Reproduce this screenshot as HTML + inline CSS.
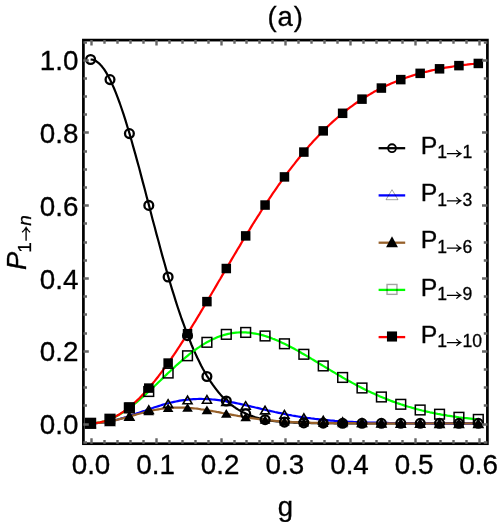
<!DOCTYPE html>
<html lang="en"><head><meta charset="utf-8"><title>(a) P1→n versus g</title>
<style>
html,body{margin:0;padding:0;background:#fff;}
body{width:500px;height:522px;overflow:hidden;font-family:"Liberation Sans",sans-serif;}
svg{display:block;will-change:transform;}
text{font-family:"Liberation Sans",sans-serif;fill:#000;stroke:#000;stroke-width:0.3px;}
.it{font-style:italic;}
</style></head><body>
<svg width="500" height="522" viewBox="0 0 500 522">
<rect width="500" height="522" fill="#fff"/>
<defs><clipPath id="cp"><rect x="83.4" y="40.1" width="404.0" height="403.6"/></clipPath></defs>
<g clip-path="url(#cp)" fill="none" stroke-width="2.2" stroke-linejoin="round">
<path d="M90.6 59.5L92.5 59.7L94.5 60.3L96.4 61.3L98.4 62.8L100.3 64.6L102.2 66.8L104.2 69.4L106.1 72.4L108.0 75.8L110.0 79.5L111.9 83.6L113.9 88.0L115.8 92.7L117.7 97.7L119.7 103.0L121.6 108.5L123.6 114.4L125.5 120.4L127.4 126.7L129.4 133.1L131.3 139.8L133.2 146.6L135.2 153.6L137.1 160.6L139.1 167.8L141.0 175.1L142.9 182.4L144.9 189.8L146.8 197.2L148.8 204.6L150.7 212.0L152.6 219.4L154.6 226.8L156.5 234.1L158.5 241.3L160.4 248.5L162.3 255.6L164.3 262.5L166.2 269.4L168.1 276.1L170.1 282.7L172.0 289.1L174.0 295.4L175.9 301.6L177.8 307.5L179.8 313.3L181.7 319.0L183.7 324.4L185.6 329.7L187.5 334.8L189.5 339.7L191.4 344.5L193.3 349.0L195.3 353.4L197.2 357.5L199.2 361.5L201.1 365.4L203.0 369.0L205.0 372.5L206.9 375.8L208.9 378.9L210.8 381.9L212.7 384.7L214.7 387.4L216.6 389.9L218.5 392.3L220.5 394.6L222.4 396.7L224.4 398.7L226.3 400.5L228.2 402.3L230.2 403.9L232.1 405.4L234.1 406.9L236.0 408.2L237.9 409.4L239.9 410.6L241.8 411.6L243.7 412.6L245.7 413.5L247.6 414.4L249.6 415.2L251.5 415.9L253.4 416.6L255.4 417.2L257.3 417.7L259.3 418.3L261.2 418.7L263.1 419.2L265.1 419.6L267.0 419.9L269.0 420.3L270.9 420.6L272.8 420.8L274.8 421.1L276.7 421.3L278.6 421.5L280.6 421.7L282.5 421.9L284.5 422.0L286.4 422.2L288.3 422.3L290.3 422.4L292.2 422.5L294.2 422.6L296.1 422.7L298.0 422.7L300.0 422.8L301.9 422.9L303.8 422.9L305.8 423.0L307.7 423.0L309.7 423.0L311.6 423.1L313.5 423.1L315.5 423.1L317.4 423.1L319.4 423.2L321.3 423.2L323.2 423.2L325.2 423.2L327.1 423.2L329.0 423.2L331.0 423.2L332.9 423.2L334.9 423.3L336.8 423.3L338.7 423.3L340.7 423.3L342.6 423.3L344.6 423.3L346.5 423.3L348.4 423.3L350.4 423.3L352.3 423.3L354.2 423.3L356.2 423.3L358.1 423.3L360.1 423.3L362.0 423.3L363.9 423.3L365.9 423.3L367.8 423.3L369.8 423.3L371.7 423.3L373.6 423.3L375.6 423.3L377.5 423.3L379.5 423.3L381.4 423.3L383.3 423.3L385.3 423.3L387.2 423.3L389.1 423.3L391.1 423.3L393.0 423.3L395.0 423.3L396.9 423.3L398.8 423.3L400.8 423.3L402.7 423.3L404.7 423.3L406.6 423.3L408.5 423.3L410.5 423.3L412.4 423.3L414.3 423.3L416.3 423.3L418.2 423.3L420.2 423.3L422.1 423.3L424.0 423.3L426.0 423.3L427.9 423.3L429.9 423.3L431.8 423.3L433.7 423.3L435.7 423.3L437.6 423.3L439.5 423.3L441.5 423.3L443.4 423.3L445.4 423.3L447.3 423.3L449.2 423.3L451.2 423.3L453.1 423.3L455.1 423.3L457.0 423.3L458.9 423.3L460.9 423.3L462.8 423.3L464.7 423.3L466.7 423.3L468.6 423.3L470.6 423.3L472.5 423.3L474.4 423.3L476.4 423.3L478.3 423.3" stroke="#000000"/>
<path d="M90.6 423.3L92.5 423.3L94.5 423.2L96.4 423.1L98.4 423.0L100.3 422.8L102.2 422.6L104.2 422.3L106.1 422.0L108.0 421.7L110.0 421.3L111.9 420.9L113.9 420.5L115.8 420.0L117.7 419.5L119.7 419.0L121.6 418.4L123.6 417.9L125.5 417.3L127.4 416.7L129.4 416.0L131.3 415.4L133.2 414.7L135.2 414.1L137.1 413.4L139.1 412.7L141.0 412.0L142.9 411.3L144.9 410.7L146.8 410.0L148.8 409.3L150.7 408.6L152.6 408.0L154.6 407.3L156.5 406.7L158.5 406.1L160.4 405.5L162.3 404.9L164.3 404.3L166.2 403.8L168.1 403.3L170.1 402.8L172.0 402.3L174.0 401.9L175.9 401.5L177.8 401.1L179.8 400.7L181.7 400.4L183.7 400.1L185.6 399.9L187.5 399.6L189.5 399.4L191.4 399.3L193.3 399.2L195.3 399.1L197.2 399.0L199.2 398.9L201.1 398.9L203.0 399.0L205.0 399.0L206.9 399.1L208.9 399.2L210.8 399.3L212.7 399.5L214.7 399.7L216.6 399.9L218.5 400.1L220.5 400.4L222.4 400.7L224.4 401.0L226.3 401.3L228.2 401.6L230.2 402.0L232.1 402.3L234.1 402.7L236.0 403.1L237.9 403.5L239.9 403.9L241.8 404.3L243.7 404.8L245.7 405.2L247.6 405.7L249.6 406.1L251.5 406.6L253.4 407.0L255.4 407.5L257.3 407.9L259.3 408.4L261.2 408.9L263.1 409.3L265.1 409.8L267.0 410.2L269.0 410.7L270.9 411.1L272.8 411.5L274.8 412.0L276.7 412.4L278.6 412.8L280.6 413.2L282.5 413.6L284.5 414.0L286.4 414.4L288.3 414.8L290.3 415.1L292.2 415.5L294.2 415.8L296.1 416.2L298.0 416.5L300.0 416.8L301.9 417.1L303.8 417.4L305.8 417.7L307.7 418.0L309.7 418.2L311.6 418.5L313.5 418.7L315.5 419.0L317.4 419.2L319.4 419.4L321.3 419.6L323.2 419.8L325.2 420.0L327.1 420.2L329.0 420.4L331.0 420.6L332.9 420.7L334.9 420.9L336.8 421.0L338.7 421.2L340.7 421.3L342.6 421.4L344.6 421.5L346.5 421.6L348.4 421.8L350.4 421.9L352.3 421.9L354.2 422.0L356.2 422.1L358.1 422.2L360.1 422.3L362.0 422.3L363.9 422.4L365.9 422.5L367.8 422.5L369.8 422.6L371.7 422.6L373.6 422.7L375.6 422.7L377.5 422.8L379.5 422.8L381.4 422.8L383.3 422.9L385.3 422.9L387.2 422.9L389.1 423.0L391.1 423.0L393.0 423.0L395.0 423.0L396.9 423.1L398.8 423.1L400.8 423.1L402.7 423.1L404.7 423.1L406.6 423.1L408.5 423.2L410.5 423.2L412.4 423.2L414.3 423.2L416.3 423.2L418.2 423.2L420.2 423.2L422.1 423.2L424.0 423.2L426.0 423.2L427.9 423.2L429.9 423.2L431.8 423.3L433.7 423.3L435.7 423.3L437.6 423.3L439.5 423.3L441.5 423.3L443.4 423.3L445.4 423.3L447.3 423.3L449.2 423.3L451.2 423.3L453.1 423.3L455.1 423.3L457.0 423.3L458.9 423.3L460.9 423.3L462.8 423.3L464.7 423.3L466.7 423.3L468.6 423.3L470.6 423.3L472.5 423.3L474.4 423.3L476.4 423.3L478.3 423.3" stroke="#0000ff"/>
<path d="M90.6 423.3L92.5 423.3L94.5 423.2L96.4 423.1L98.4 423.0L100.3 422.8L102.2 422.6L104.2 422.3L106.1 422.0L108.0 421.7L110.0 421.3L111.9 421.0L113.9 420.5L115.8 420.1L117.7 419.6L119.7 419.1L121.6 418.6L123.6 418.1L125.5 417.6L127.4 417.1L129.4 416.5L131.3 416.0L133.2 415.4L135.2 414.9L137.1 414.3L139.1 413.8L141.0 413.3L142.9 412.7L144.9 412.2L146.8 411.8L148.8 411.3L150.7 410.8L152.6 410.4L154.6 410.0L156.5 409.7L158.5 409.3L160.4 409.0L162.3 408.7L164.3 408.5L166.2 408.2L168.1 408.0L170.1 407.9L172.0 407.8L174.0 407.7L175.9 407.6L177.8 407.6L179.8 407.5L181.7 407.6L183.7 407.6L185.6 407.7L187.5 407.8L189.5 408.0L191.4 408.1L193.3 408.3L195.3 408.5L197.2 408.7L199.2 409.0L201.1 409.3L203.0 409.5L205.0 409.8L206.9 410.2L208.9 410.5L210.8 410.8L212.7 411.2L214.7 411.5L216.6 411.9L218.5 412.2L220.5 412.6L222.4 413.0L224.4 413.3L226.3 413.7L228.2 414.1L230.2 414.4L232.1 414.8L234.1 415.2L236.0 415.5L237.9 415.9L239.9 416.2L241.8 416.5L243.7 416.9L245.7 417.2L247.6 417.5L249.6 417.8L251.5 418.1L253.4 418.4L255.4 418.7L257.3 418.9L259.3 419.2L261.2 419.4L263.1 419.7L265.1 419.9L267.0 420.1L269.0 420.3L270.9 420.5L272.8 420.7L274.8 420.8L276.7 421.0L278.6 421.2L280.6 421.3L282.5 421.5L284.5 421.6L286.4 421.7L288.3 421.8L290.3 421.9L292.2 422.1L294.2 422.1L296.1 422.2L298.0 422.3L300.0 422.4L301.9 422.5L303.8 422.5L305.8 422.6L307.7 422.7L309.7 422.7L311.6 422.8L313.5 422.8L315.5 422.9L317.4 422.9L319.4 422.9L321.3 423.0L323.2 423.0L325.2 423.0L327.1 423.1L329.0 423.1L331.0 423.1L332.9 423.1L334.9 423.1L336.8 423.2L338.7 423.2L340.7 423.2L342.6 423.2L344.6 423.2L346.5 423.2L348.4 423.2L350.4 423.2L352.3 423.2L354.2 423.2L356.2 423.3L358.1 423.3L360.1 423.3L362.0 423.3L363.9 423.3L365.9 423.3L367.8 423.3L369.8 423.3L371.7 423.3L373.6 423.3L375.6 423.3L377.5 423.3L379.5 423.3L381.4 423.3L383.3 423.3L385.3 423.3L387.2 423.3L389.1 423.3L391.1 423.3L393.0 423.3L395.0 423.3L396.9 423.3L398.8 423.3L400.8 423.3L402.7 423.3L404.7 423.3L406.6 423.3L408.5 423.3L410.5 423.3L412.4 423.3L414.3 423.3L416.3 423.3L418.2 423.3L420.2 423.3L422.1 423.3L424.0 423.3L426.0 423.3L427.9 423.3L429.9 423.3L431.8 423.3L433.7 423.3L435.7 423.3L437.6 423.3L439.5 423.3L441.5 423.3L443.4 423.3L445.4 423.3L447.3 423.3L449.2 423.3L451.2 423.3L453.1 423.3L455.1 423.3L457.0 423.3L458.9 423.3L460.9 423.3L462.8 423.3L464.7 423.3L466.7 423.3L468.6 423.3L470.6 423.3L472.5 423.3L474.4 423.3L476.4 423.3L478.3 423.3" stroke="#97612b"/>
<path d="M90.6 423.3L92.5 423.3L94.5 423.1L96.4 422.9L98.4 422.6L100.3 422.3L102.2 421.8L104.2 421.3L106.1 420.7L108.0 420.0L110.0 419.3L111.9 418.4L113.9 417.5L115.8 416.5L117.7 415.5L119.7 414.4L121.6 413.2L123.6 412.0L125.5 410.7L127.4 409.3L129.4 407.9L131.3 406.5L133.2 405.0L135.2 403.4L137.1 401.8L139.1 400.2L141.0 398.5L142.9 396.8L144.9 395.1L146.8 393.3L148.8 391.5L150.7 389.7L152.6 387.9L154.6 386.0L156.5 384.2L158.5 382.3L160.4 380.5L162.3 378.6L164.3 376.7L166.2 374.9L168.1 373.0L170.1 371.2L172.0 369.4L174.0 367.6L175.9 365.8L177.8 364.1L179.8 362.4L181.7 360.7L183.7 359.0L185.6 357.4L187.5 355.8L189.5 354.2L191.4 352.7L193.3 351.2L195.3 349.8L197.2 348.4L199.2 347.1L201.1 345.8L203.0 344.6L205.0 343.4L206.9 342.3L208.9 341.3L210.8 340.3L212.7 339.3L214.7 338.4L216.6 337.6L218.5 336.8L220.5 336.1L222.4 335.5L224.4 334.9L226.3 334.4L228.2 333.9L230.2 333.5L232.1 333.2L234.1 332.9L236.0 332.7L237.9 332.5L239.9 332.4L241.8 332.4L243.7 332.4L245.7 332.4L247.6 332.6L249.6 332.7L251.5 333.0L253.4 333.3L255.4 333.6L257.3 334.0L259.3 334.4L261.2 334.9L263.1 335.4L265.1 336.0L267.0 336.6L269.0 337.2L270.9 337.9L272.8 338.7L274.8 339.4L276.7 340.2L278.6 341.1L280.6 342.0L282.5 342.9L284.5 343.8L286.4 344.7L288.3 345.7L290.3 346.7L292.2 347.7L294.2 348.8L296.1 349.9L298.0 350.9L300.0 352.0L301.9 353.2L303.8 354.3L305.8 355.4L307.7 356.6L309.7 357.7L311.6 358.9L313.5 360.0L315.5 361.2L317.4 362.4L319.4 363.6L321.3 364.7L323.2 365.9L325.2 367.1L327.1 368.3L329.0 369.4L331.0 370.6L332.9 371.8L334.9 372.9L336.8 374.1L338.7 375.2L340.7 376.3L342.6 377.5L344.6 378.6L346.5 379.7L348.4 380.7L350.4 381.8L352.3 382.9L354.2 383.9L356.2 385.0L358.1 386.0L360.1 387.0L362.0 388.0L363.9 389.0L365.9 389.9L367.8 390.9L369.8 391.8L371.7 392.7L373.6 393.6L375.6 394.5L377.5 395.3L379.5 396.2L381.4 397.0L383.3 397.8L385.3 398.6L387.2 399.4L389.1 400.1L391.1 400.9L393.0 401.6L395.0 402.3L396.9 403.0L398.8 403.6L400.8 404.3L402.7 404.9L404.7 405.6L406.6 406.2L408.5 406.8L410.5 407.3L412.4 407.9L414.3 408.4L416.3 409.0L418.2 409.5L420.2 410.0L422.1 410.5L424.0 410.9L426.0 411.4L427.9 411.8L429.9 412.3L431.8 412.7L433.7 413.1L435.7 413.5L437.6 413.9L439.5 414.2L441.5 414.6L443.4 414.9L445.4 415.2L447.3 415.6L449.2 415.9L451.2 416.2L453.1 416.5L455.1 416.7L457.0 417.0L458.9 417.3L460.9 417.5L462.8 417.8L464.7 418.0L466.7 418.2L468.6 418.4L470.6 418.6L472.5 418.8L474.4 419.0L476.4 419.2L478.3 419.4" stroke="#00ff00"/>
<path d="M90.6 423.3L92.5 423.3L94.5 423.1L96.4 422.9L98.4 422.6L100.3 422.3L102.2 421.8L104.2 421.3L106.1 420.7L108.0 420.0L110.0 419.2L111.9 418.4L113.9 417.4L115.8 416.4L117.7 415.3L119.7 414.2L121.6 412.9L123.6 411.6L125.5 410.2L127.4 408.7L129.4 407.2L131.3 405.6L133.2 403.9L135.2 402.2L137.1 400.4L139.1 398.5L141.0 396.5L142.9 394.5L144.9 392.4L146.8 390.3L148.8 388.1L150.7 385.8L152.6 383.5L154.6 381.1L156.5 378.7L158.5 376.2L160.4 373.7L162.3 371.1L164.3 368.5L166.2 365.8L168.1 363.1L170.1 360.3L172.0 357.5L174.0 354.7L175.9 351.8L177.8 348.8L179.8 345.9L181.7 342.9L183.7 339.8L185.6 336.8L187.5 333.7L189.5 330.6L191.4 327.4L193.3 324.3L195.3 321.1L197.2 317.9L199.2 314.7L201.1 311.4L203.0 308.2L205.0 304.9L206.9 301.6L208.9 298.3L210.8 295.0L212.7 291.7L214.7 288.4L216.6 285.1L218.5 281.8L220.5 278.5L222.4 275.1L224.4 271.8L226.3 268.5L228.2 265.2L230.2 261.9L232.1 258.6L234.1 255.3L236.0 252.1L237.9 248.8L239.9 245.6L241.8 242.3L243.7 239.1L245.7 235.9L247.6 232.7L249.6 229.6L251.5 226.4L253.4 223.3L255.4 220.2L257.3 217.1L259.3 214.1L261.2 211.0L263.1 208.0L265.1 205.0L267.0 202.1L269.0 199.2L270.9 196.3L272.8 193.4L274.8 190.6L276.7 187.8L278.6 185.0L280.6 182.3L282.5 179.6L284.5 176.9L286.4 174.3L288.3 171.7L290.3 169.1L292.2 166.6L294.2 164.1L296.1 161.6L298.0 159.2L300.0 156.8L301.9 154.4L303.8 152.1L305.8 149.8L307.7 147.6L309.7 145.3L311.6 143.2L313.5 141.0L315.5 138.9L317.4 136.9L319.4 134.8L321.3 132.8L323.2 130.9L325.2 129.0L327.1 127.1L329.0 125.2L331.0 123.4L332.9 121.6L334.9 119.9L336.8 118.2L338.7 116.5L340.7 114.9L342.6 113.3L344.6 111.7L346.5 110.2L348.4 108.7L350.4 107.2L352.3 105.8L354.2 104.4L356.2 103.0L358.1 101.7L360.1 100.4L362.0 99.1L363.9 97.9L365.9 96.7L367.8 95.5L369.8 94.4L371.7 93.2L373.6 92.1L375.6 91.1L377.5 90.0L379.5 89.0L381.4 88.1L383.3 87.1L385.3 86.2L387.2 85.3L389.1 84.4L391.1 83.5L393.0 82.7L395.0 81.9L396.9 81.1L398.8 80.4L400.8 79.6L402.7 78.9L404.7 78.2L406.6 77.5L408.5 76.9L410.5 76.2L412.4 75.6L414.3 75.0L416.3 74.4L418.2 73.9L420.2 73.3L422.1 72.8L424.0 72.3L426.0 71.8L427.9 71.4L429.9 70.9L431.8 70.4L433.7 70.0L435.7 69.6L437.6 69.2L439.5 68.8L441.5 68.4L443.4 68.1L445.4 67.7L447.3 67.4L449.2 67.1L451.2 66.8L453.1 66.5L455.1 66.2L457.0 65.9L458.9 65.6L460.9 65.4L462.8 65.1L464.7 64.9L466.7 64.7L468.6 64.4L470.6 64.2L472.5 64.0L474.4 63.8L476.4 63.6L478.3 63.4" stroke="#ff0000"/>
</g>
<g>
<circle cx="90.6" cy="59.5" r="4.40" fill="none" stroke="#000" stroke-width="2.3"/>
<circle cx="110.0" cy="79.6" r="4.40" fill="none" stroke="#000" stroke-width="2.3"/>
<circle cx="129.4" cy="133.6" r="4.40" fill="none" stroke="#000" stroke-width="2.3"/>
<circle cx="148.8" cy="205.4" r="4.40" fill="none" stroke="#000" stroke-width="2.3"/>
<circle cx="168.1" cy="277.0" r="4.40" fill="none" stroke="#000" stroke-width="2.3"/>
<circle cx="187.5" cy="335.7" r="4.40" fill="none" stroke="#000" stroke-width="2.3"/>
<circle cx="206.9" cy="376.5" r="4.40" fill="none" stroke="#000" stroke-width="2.3"/>
<circle cx="226.3" cy="401.0" r="4.40" fill="none" stroke="#000" stroke-width="2.3"/>
<circle cx="245.7" cy="413.8" r="4.40" fill="none" stroke="#000" stroke-width="2.3"/>
<circle cx="265.1" cy="419.7" r="4.40" fill="none" stroke="#000" stroke-width="2.3"/>
<circle cx="284.5" cy="422.1" r="4.40" fill="none" stroke="#000" stroke-width="2.3"/>
<circle cx="303.8" cy="422.9" r="4.40" fill="none" stroke="#000" stroke-width="2.3"/>
<circle cx="323.2" cy="423.2" r="4.40" fill="none" stroke="#000" stroke-width="2.3"/>
<circle cx="342.6" cy="423.3" r="4.40" fill="none" stroke="#000" stroke-width="2.3"/>
<circle cx="362.0" cy="423.3" r="4.40" fill="none" stroke="#000" stroke-width="2.3"/>
<circle cx="381.4" cy="423.3" r="4.40" fill="none" stroke="#000" stroke-width="2.3"/>
<circle cx="400.8" cy="423.3" r="4.40" fill="none" stroke="#000" stroke-width="2.3"/>
<circle cx="420.2" cy="423.3" r="4.40" fill="none" stroke="#000" stroke-width="2.3"/>
<circle cx="439.5" cy="423.3" r="4.40" fill="none" stroke="#000" stroke-width="2.3"/>
<circle cx="458.9" cy="423.3" r="4.40" fill="none" stroke="#000" stroke-width="2.3"/>
<circle cx="478.3" cy="423.3" r="4.40" fill="none" stroke="#000" stroke-width="2.3"/>
</g>
<g>
<polygon points="90.60,419.80 86.10,427.40 95.10,427.40" fill="none" stroke="#000" stroke-width="1.6"/>
<polygon points="109.99,417.81 105.49,425.41 114.49,425.41" fill="none" stroke="#000" stroke-width="1.6"/>
<polygon points="129.37,412.53 124.87,420.13 133.87,420.13" fill="none" stroke="#000" stroke-width="1.6"/>
<polygon points="148.76,405.80 144.26,413.40 153.26,413.40" fill="none" stroke="#000" stroke-width="1.6"/>
<polygon points="168.14,399.78 163.64,407.38 172.64,407.38" fill="none" stroke="#000" stroke-width="1.6"/>
<polygon points="187.53,396.15 183.03,403.75 192.03,403.75" fill="none" stroke="#000" stroke-width="1.6"/>
<polygon points="206.92,395.59 202.42,403.19 211.42,403.19" fill="none" stroke="#000" stroke-width="1.6"/>
<polygon points="226.30,397.77 221.80,405.37 230.80,405.37" fill="none" stroke="#000" stroke-width="1.6"/>
<polygon points="245.69,401.71 241.19,409.31 250.19,409.31" fill="none" stroke="#000" stroke-width="1.6"/>
<polygon points="265.07,406.26 260.57,413.86 269.57,413.86" fill="none" stroke="#000" stroke-width="1.6"/>
<polygon points="284.46,410.50 279.96,418.10 288.96,418.10" fill="none" stroke="#000" stroke-width="1.6"/>
<polygon points="303.85,413.91 299.35,421.51 308.35,421.51" fill="none" stroke="#000" stroke-width="1.6"/>
<polygon points="323.23,416.34 318.73,423.94 327.73,423.94" fill="none" stroke="#000" stroke-width="1.6"/>
<polygon points="342.62,417.92 338.12,425.52 347.12,425.52" fill="none" stroke="#000" stroke-width="1.6"/>
<polygon points="362.00,418.84 357.50,426.44 366.50,426.44" fill="none" stroke="#000" stroke-width="1.6"/>
<polygon points="381.39,419.35 376.89,426.95 385.89,426.95" fill="none" stroke="#000" stroke-width="1.6"/>
<polygon points="400.78,419.60 396.28,427.20 405.28,427.20" fill="none" stroke="#000" stroke-width="1.6"/>
<polygon points="420.16,419.72 415.66,427.32 424.66,427.32" fill="none" stroke="#000" stroke-width="1.6"/>
<polygon points="439.55,419.77 435.05,427.37 444.05,427.37" fill="none" stroke="#000" stroke-width="1.6"/>
<polygon points="458.93,419.79 454.43,427.39 463.43,427.39" fill="none" stroke="#000" stroke-width="1.6"/>
<polygon points="478.32,419.80 473.82,427.40 482.82,427.40" fill="none" stroke="#000" stroke-width="1.6"/>
</g>
<g>
<polygon points="90.60,418.70 85.30,427.30 95.90,427.30" fill="#000"/>
<polygon points="109.99,416.74 104.69,425.34 115.29,425.34" fill="#000"/>
<polygon points="129.37,411.91 124.07,420.51 134.67,420.51" fill="#000"/>
<polygon points="148.76,406.69 143.46,415.29 154.06,415.29" fill="#000"/>
<polygon points="168.14,403.44 162.84,412.04 173.44,412.04" fill="#000"/>
<polygon points="187.53,403.22 182.23,411.82 192.83,411.82" fill="#000"/>
<polygon points="206.92,405.55 201.62,414.15 212.22,414.15" fill="#000"/>
<polygon points="226.30,409.11 221.00,417.71 231.60,417.71" fill="#000"/>
<polygon points="245.69,412.59 240.39,421.19 250.99,421.19" fill="#000"/>
<polygon points="265.07,415.27 259.77,423.87 270.37,423.87" fill="#000"/>
<polygon points="284.46,417.00 279.16,425.60 289.76,425.60" fill="#000"/>
<polygon points="303.85,417.94 298.55,426.54 309.15,426.54" fill="#000"/>
<polygon points="323.23,418.40 317.93,427.00 328.53,427.00" fill="#000"/>
<polygon points="342.62,418.59 337.32,427.19 347.92,427.19" fill="#000"/>
<polygon points="362.00,418.67 356.70,427.27 367.30,427.27" fill="#000"/>
<polygon points="381.39,418.69 376.09,427.29 386.69,427.29" fill="#000"/>
<polygon points="400.78,418.70 395.48,427.30 406.08,427.30" fill="#000"/>
<polygon points="420.16,418.70 414.86,427.30 425.46,427.30" fill="#000"/>
<polygon points="439.55,418.70 434.25,427.30 444.85,427.30" fill="#000"/>
<polygon points="458.93,418.70 453.63,427.30 464.23,427.30" fill="#000"/>
<polygon points="478.32,418.70 473.02,427.30 483.62,427.30" fill="#000"/>
</g>
<g>
<rect x="85.75" y="418.45" width="9.70" height="9.70" fill="none" stroke="#000" stroke-width="1.5"/>
<rect x="105.14" y="414.40" width="9.70" height="9.70" fill="none" stroke="#000" stroke-width="1.5"/>
<rect x="124.52" y="403.07" width="9.70" height="9.70" fill="none" stroke="#000" stroke-width="1.5"/>
<rect x="143.91" y="386.65" width="9.70" height="9.70" fill="none" stroke="#000" stroke-width="1.5"/>
<rect x="163.29" y="368.20" width="9.70" height="9.70" fill="none" stroke="#000" stroke-width="1.5"/>
<rect x="182.68" y="350.92" width="9.70" height="9.70" fill="none" stroke="#000" stroke-width="1.5"/>
<rect x="202.07" y="337.47" width="9.70" height="9.70" fill="none" stroke="#000" stroke-width="1.5"/>
<rect x="221.45" y="329.52" width="9.70" height="9.70" fill="none" stroke="#000" stroke-width="1.5"/>
<rect x="240.84" y="327.58" width="9.70" height="9.70" fill="none" stroke="#000" stroke-width="1.5"/>
<rect x="260.22" y="331.13" width="9.70" height="9.70" fill="none" stroke="#000" stroke-width="1.5"/>
<rect x="279.61" y="338.93" width="9.70" height="9.70" fill="none" stroke="#000" stroke-width="1.5"/>
<rect x="299.00" y="349.43" width="9.70" height="9.70" fill="none" stroke="#000" stroke-width="1.5"/>
<rect x="318.38" y="361.08" width="9.70" height="9.70" fill="none" stroke="#000" stroke-width="1.5"/>
<rect x="337.77" y="372.61" width="9.70" height="9.70" fill="none" stroke="#000" stroke-width="1.5"/>
<rect x="357.15" y="383.13" width="9.70" height="9.70" fill="none" stroke="#000" stroke-width="1.5"/>
<rect x="376.54" y="392.13" width="9.70" height="9.70" fill="none" stroke="#000" stroke-width="1.5"/>
<rect x="395.93" y="399.45" width="9.70" height="9.70" fill="none" stroke="#000" stroke-width="1.5"/>
<rect x="415.31" y="405.13" width="9.70" height="9.70" fill="none" stroke="#000" stroke-width="1.5"/>
<rect x="434.70" y="409.37" width="9.70" height="9.70" fill="none" stroke="#000" stroke-width="1.5"/>
<rect x="454.08" y="412.42" width="9.70" height="9.70" fill="none" stroke="#000" stroke-width="1.5"/>
<rect x="473.47" y="414.55" width="9.70" height="9.70" fill="none" stroke="#000" stroke-width="1.5"/>
</g>
<g>
<rect x="85.85" y="418.55" width="9.50" height="9.50" fill="#000"/>
<rect x="105.24" y="414.46" width="9.50" height="9.50" fill="#000"/>
<rect x="124.62" y="402.46" width="9.50" height="9.50" fill="#000"/>
<rect x="144.01" y="383.34" width="9.50" height="9.50" fill="#000"/>
<rect x="163.39" y="358.33" width="9.50" height="9.50" fill="#000"/>
<rect x="182.78" y="328.95" width="9.50" height="9.50" fill="#000"/>
<rect x="202.17" y="296.87" width="9.50" height="9.50" fill="#000"/>
<rect x="221.55" y="263.77" width="9.50" height="9.50" fill="#000"/>
<rect x="240.94" y="231.15" width="9.50" height="9.50" fill="#000"/>
<rect x="260.32" y="200.30" width="9.50" height="9.50" fill="#000"/>
<rect x="279.71" y="172.16" width="9.50" height="9.50" fill="#000"/>
<rect x="299.10" y="147.33" width="9.50" height="9.50" fill="#000"/>
<rect x="318.48" y="126.13" width="9.50" height="9.50" fill="#000"/>
<rect x="337.87" y="108.55" width="9.50" height="9.50" fill="#000"/>
<rect x="357.25" y="94.39" width="9.50" height="9.50" fill="#000"/>
<rect x="376.64" y="83.31" width="9.50" height="9.50" fill="#000"/>
<rect x="396.03" y="74.86" width="9.50" height="9.50" fill="#000"/>
<rect x="415.41" y="68.60" width="9.50" height="9.50" fill="#000"/>
<rect x="434.80" y="64.07" width="9.50" height="9.50" fill="#000"/>
<rect x="454.18" y="60.88" width="9.50" height="9.50" fill="#000"/>
<rect x="473.57" y="58.70" width="9.50" height="9.50" fill="#000"/>
</g>
<rect x="83.4" y="40.1" width="404.0" height="403.6" fill="none" stroke="#000" stroke-width="2.7"/>
<g stroke="#666666" stroke-width="2.4">
<path d="M91.5 443.7v-5.4M91.5 40.1v5.4"/>
<path d="M104.5 443.7v-3.6M104.5 40.1v3.6"/>
<path d="M117.5 443.7v-3.6M117.5 40.1v3.6"/>
<path d="M130.5 443.7v-3.6M130.5 40.1v3.6"/>
<path d="M143.5 443.7v-3.6M143.5 40.1v3.6"/>
<path d="M156.5 443.7v-5.4M156.5 40.1v5.4"/>
<path d="M169.5 443.7v-3.6M169.5 40.1v3.6"/>
<path d="M182.5 443.7v-3.6M182.5 40.1v3.6"/>
<path d="M195.5 443.7v-3.6M195.5 40.1v3.6"/>
<path d="M208.5 443.7v-3.6M208.5 40.1v3.6"/>
<path d="M221.5 443.7v-5.4M221.5 40.1v5.4"/>
<path d="M234.5 443.7v-3.6M234.5 40.1v3.6"/>
<path d="M246.5 443.7v-3.6M246.5 40.1v3.6"/>
<path d="M259.5 443.7v-3.6M259.5 40.1v3.6"/>
<path d="M272.5 443.7v-3.6M272.5 40.1v3.6"/>
<path d="M285.5 443.7v-5.4M285.5 40.1v5.4"/>
<path d="M298.5 443.7v-3.6M298.5 40.1v3.6"/>
<path d="M311.5 443.7v-3.6M311.5 40.1v3.6"/>
<path d="M324.5 443.7v-3.6M324.5 40.1v3.6"/>
<path d="M337.5 443.7v-3.6M337.5 40.1v3.6"/>
<path d="M350.5 443.7v-5.4M350.5 40.1v5.4"/>
<path d="M363.5 443.7v-3.6M363.5 40.1v3.6"/>
<path d="M376.5 443.7v-3.6M376.5 40.1v3.6"/>
<path d="M389.5 443.7v-3.6M389.5 40.1v3.6"/>
<path d="M402.5 443.7v-3.6M402.5 40.1v3.6"/>
<path d="M415.5 443.7v-5.4M415.5 40.1v5.4"/>
<path d="M427.5 443.7v-3.6M427.5 40.1v3.6"/>
<path d="M440.5 443.7v-3.6M440.5 40.1v3.6"/>
<path d="M453.5 443.7v-3.6M453.5 40.1v3.6"/>
<path d="M466.5 443.7v-3.6M466.5 40.1v3.6"/>
<path d="M479.5 443.7v-5.4M479.5 40.1v5.4"/>
<path d="M83.4 442.5h3.6M487.4 442.5h-3.6"/>
<path d="M83.4 424.5h5.4M487.4 424.5h-5.4"/>
<path d="M83.4 405.5h3.6M487.4 405.5h-3.6"/>
<path d="M83.4 387.5h3.6M487.4 387.5h-3.6"/>
<path d="M83.4 369.5h3.6M487.4 369.5h-3.6"/>
<path d="M83.4 351.5h5.4M487.4 351.5h-5.4"/>
<path d="M83.4 333.5h3.6M487.4 333.5h-3.6"/>
<path d="M83.4 314.5h3.6M487.4 314.5h-3.6"/>
<path d="M83.4 296.5h3.6M487.4 296.5h-3.6"/>
<path d="M83.4 278.5h5.4M487.4 278.5h-5.4"/>
<path d="M83.4 260.5h3.6M487.4 260.5h-3.6"/>
<path d="M83.4 242.5h3.6M487.4 242.5h-3.6"/>
<path d="M83.4 223.5h3.6M487.4 223.5h-3.6"/>
<path d="M83.4 205.5h5.4M487.4 205.5h-5.4"/>
<path d="M83.4 187.5h3.6M487.4 187.5h-3.6"/>
<path d="M83.4 169.5h3.6M487.4 169.5h-3.6"/>
<path d="M83.4 151.5h3.6M487.4 151.5h-3.6"/>
<path d="M83.4 132.5h5.4M487.4 132.5h-5.4"/>
<path d="M83.4 114.5h3.6M487.4 114.5h-3.6"/>
<path d="M83.4 96.5h3.6M487.4 96.5h-3.6"/>
<path d="M83.4 78.5h3.6M487.4 78.5h-3.6"/>
<path d="M83.4 60.5h5.4M487.4 60.5h-5.4"/>
<path d="M83.4 42.5h3.6M487.4 42.5h-3.6"/>
</g>
<g font-size="27.8" text-anchor="middle">
<text x="91.0" y="474.2">0.0</text>
<text x="155.6" y="474.2">0.1</text>
<text x="220.2" y="474.2">0.2</text>
<text x="284.9" y="474.2">0.3</text>
<text x="349.5" y="474.2">0.4</text>
<text x="414.1" y="474.2">0.5</text>
<text x="478.7" y="474.2">0.6</text>
</g>
<g font-size="27.8" text-anchor="end">
<text x="78.5" y="434.1">0.0</text>
<text x="78.5" y="361.3">0.2</text>
<text x="78.5" y="288.6">0.4</text>
<text x="78.5" y="215.8">0.6</text>
<text x="78.5" y="143.1">0.8</text>
<text x="78.5" y="70.3">1.0</text>
</g>
<text x="267.5" y="25.7" font-size="27.5" letter-spacing="0.9">(a)</text>
<text x="285.4" y="515.8" font-size="27.5" text-anchor="middle">g</text>
<g transform="translate(25.9,270.05) rotate(-90)">
<text x="0" y="0" font-size="27.3" class="it">P</text>
<text x="17.2" y="4.9" font-size="19">1</text>
<path d="M29.20 0.20H42.20 M37.70 -3.80Q39.86 -1.20 42.50 0.20Q39.86 1.60 37.70 4.20" fill="none" stroke="#000" stroke-width="1.35" stroke-linecap="butt" stroke-linejoin="miter"/>
<text x="44.2" y="4.9" font-size="19" class="it">n</text>
</g>
<path d="M378.6 148.2H405.2" stroke="#000000" stroke-width="2.3"/>
<circle cx="392.0" cy="148.2" r="3.95" fill="none" stroke="#000" stroke-width="1.8"/>
<text x="420.7" y="153.8" font-size="24.8">P</text>
<text x="437.3" y="158.4" font-size="17.6">1</text>
<path d="M446.90 153.60H460.50 M456.40 150.20Q458.38 152.41 460.80 153.60Q458.38 154.79 456.40 157.00" fill="none" stroke="#000" stroke-width="1.25" stroke-linecap="butt" stroke-linejoin="miter"/>
<text x="462.4" y="158.4" font-size="17.6">1</text>
<path d="M378.6 195.4H405.2" stroke="#0000ff" stroke-width="2.3"/>
<polygon points="392.00,189.70 386.00,199.70 398.00,199.70" fill="none" stroke="#000" stroke-width="1.0" stroke-opacity="0.36"/>
<text x="420.7" y="201.0" font-size="24.8">P</text>
<text x="437.3" y="205.6" font-size="17.6">1</text>
<path d="M446.90 200.80H460.50 M456.40 197.40Q458.38 199.61 460.80 200.80Q458.38 201.99 456.40 204.20" fill="none" stroke="#000" stroke-width="1.25" stroke-linecap="butt" stroke-linejoin="miter"/>
<text x="462.4" y="205.6" font-size="17.6">3</text>
<path d="M378.6 242.7H405.2" stroke="#97612b" stroke-width="2.3"/>
<polygon points="392.00,236.20 386.05,247.20 397.95,247.20" fill="#000"/>
<text x="420.7" y="248.3" font-size="24.8">P</text>
<text x="437.3" y="252.9" font-size="17.6">1</text>
<path d="M446.90 248.10H460.50 M456.40 244.70Q458.38 246.91 460.80 248.10Q458.38 249.29 456.40 251.50" fill="none" stroke="#000" stroke-width="1.25" stroke-linecap="butt" stroke-linejoin="miter"/>
<text x="462.4" y="252.9" font-size="17.6">6</text>
<path d="M378.6 289.9H405.2" stroke="#00ff00" stroke-width="2.3"/>
<rect x="387.05" y="284.45" width="9.90" height="9.90" fill="none" stroke="#000" stroke-width="1.4" stroke-opacity="0.36"/>
<text x="420.7" y="295.5" font-size="24.8">P</text>
<text x="437.3" y="300.1" font-size="17.6">1</text>
<path d="M446.90 295.30H460.50 M456.40 291.90Q458.38 294.11 460.80 295.30Q458.38 296.49 456.40 298.70" fill="none" stroke="#000" stroke-width="1.25" stroke-linecap="butt" stroke-linejoin="miter"/>
<text x="462.4" y="300.1" font-size="17.6">9</text>
<path d="M378.6 337.1H405.2" stroke="#ff0000" stroke-width="2.3"/>
<rect x="386.95" y="331.45" width="10.10" height="10.10" fill="#000"/>
<text x="420.7" y="342.7" font-size="24.8">P</text>
<text x="437.3" y="347.3" font-size="17.6">1</text>
<path d="M446.90 342.50H460.50 M456.40 339.10Q458.38 341.31 460.80 342.50Q458.38 343.69 456.40 345.90" fill="none" stroke="#000" stroke-width="1.25" stroke-linecap="butt" stroke-linejoin="miter"/>
<text x="462.4" y="347.3" font-size="17.6">10</text>
</svg></body></html>
